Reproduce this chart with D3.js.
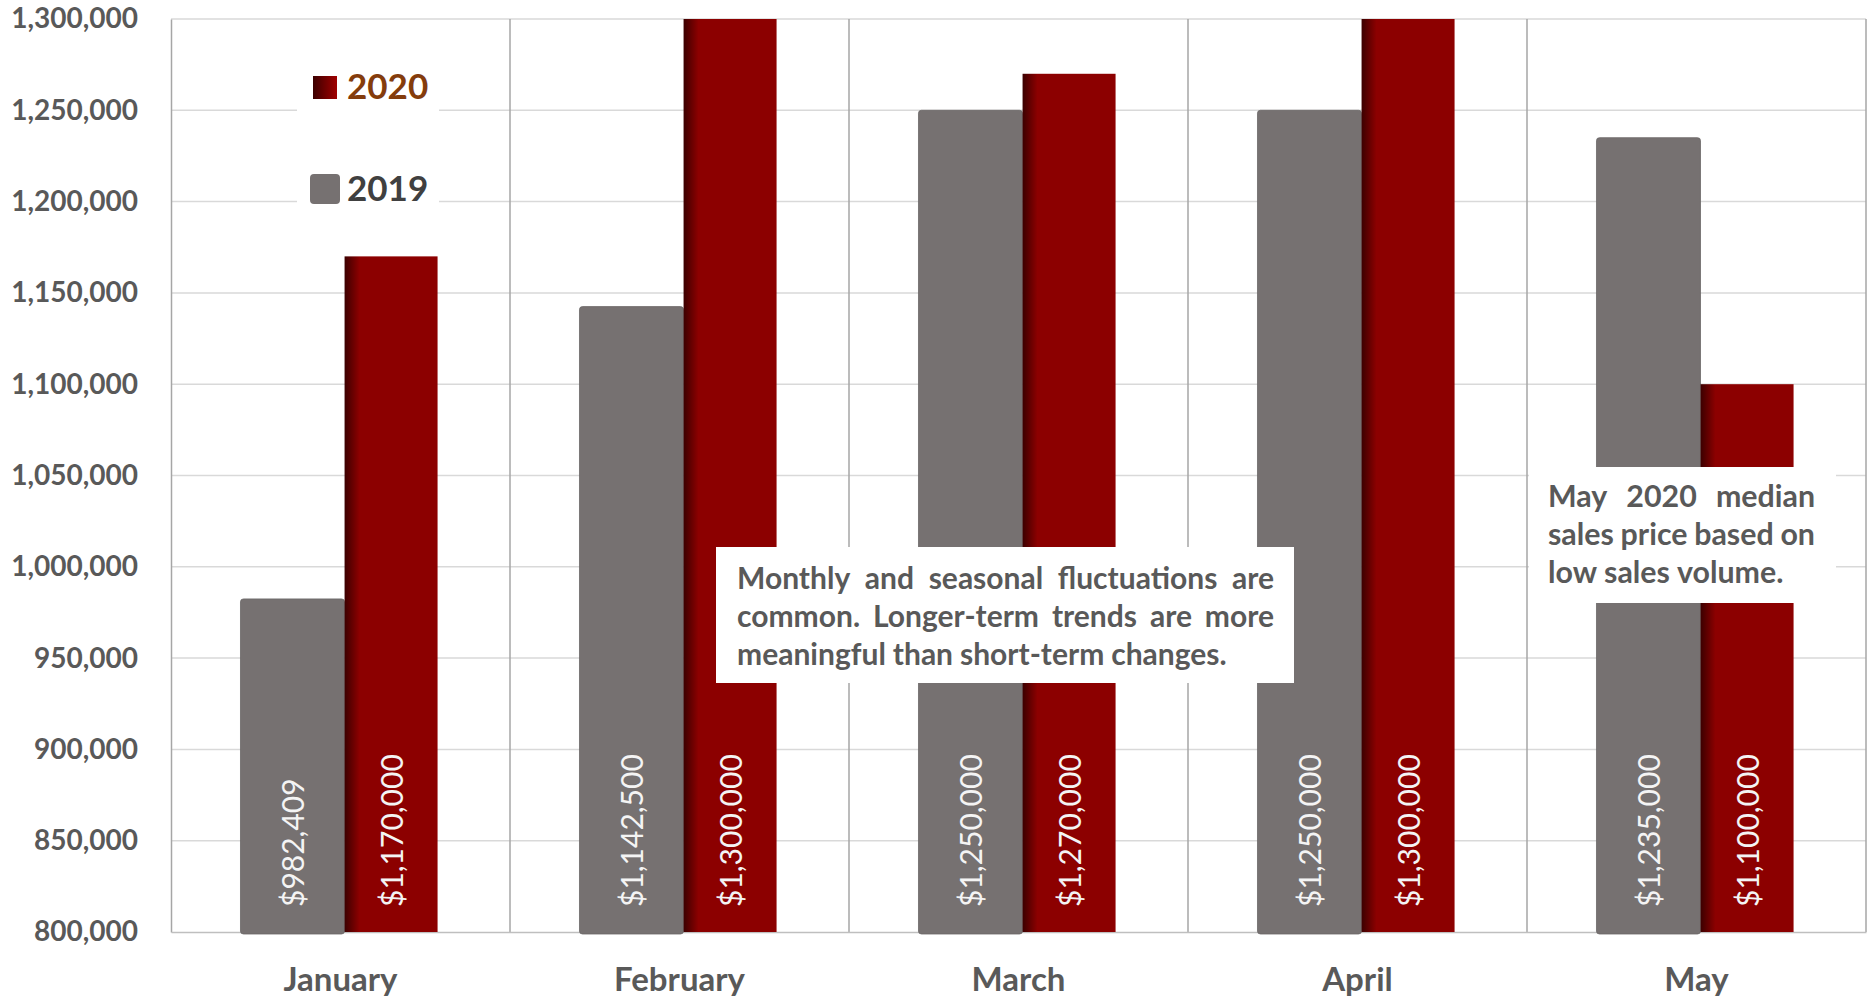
<!DOCTYPE html>
<html lang="en">
  <head>
    <meta charset="utf-8" />
    <title>Median sales price 2019 vs 2020</title>
    <style>
      body { margin: 0; background: #fff; }
      #vis text { font-family: Lato, "Noto Sans", sans-serif; }
    </style>
  </head>
  <body>
    <div id="vis"></div>
    <script src="https://d3js.org/d3.v7.min.js"></script>
    <script>
      const months = ["January", "February", "March", "April", "May"];
      const sales2019 = [982409, 1142500, 1250000, 1250000, 1235000];
      const sales2020 = [1170000, 1300000, 1270000, 1300000, 1100000];
      const yTicks = [800000, 850000, 900000, 950000, 1000000, 1050000, 1100000, 1150000, 1200000, 1250000, 1300000];
      const note1 = ["Monthly and seasonal fluctuations are", "common. Longer-term trends are more", "meaningful than short-term changes."];
      const note2 = ["May 2020 median", "sales price based on", "low sales volume."];

      const W = 1873, H = 1000;
      const svg = d3.select("#vis").append("svg").attr("width", W).attr("height", H);

      const x = d3.scaleBand().domain(months).range([171, 1866]);
      const y = d3.scaleLinear().domain([800000, 1300000]).range([932, 19]);
      const bw = x.bandwidth();

      const defs = svg.append("defs");
      const red = defs.append("linearGradient").attr("id", "red");
      red.append("stop").attr("offset", "0%").attr("stop-color", "#3c0000");
      red.append("stop").attr("offset", "16%").attr("stop-color", "#8c0000");
      red.append("stop").attr("offset", "100%").attr("stop-color", "#8c0000");
      const redKey = defs.append("linearGradient").attr("id", "redKey");
      redKey.append("stop").attr("offset", "0%").attr("stop-color", "#3c0000");
      redKey.append("stop").attr("offset", "100%").attr("stop-color", "#a00000");

      // gridlines
      svg.append("g").selectAll("line").data(yTicks.slice(1)).join("line")
        .attr("x1", 171).attr("x2", 1866)
        .attr("y1", d => y(d)).attr("y2", d => y(d))
        .attr("stroke", "#d9d9d9").attr("stroke-width", 1.5);

      // category separators
      svg.append("g").selectAll("line").data(months.slice(1).map(m => x(m)).concat([1866])).join("line")
        .attr("x1", d => d).attr("x2", d => d)
        .attr("y1", y(1300000)).attr("y2", y(800000))
        .attr("stroke", "#a6a6a6").attr("stroke-width", 1.5);

      // legend background
      svg.append("rect").attr("x", 297).attr("y", 35).attr("width", 142).attr("height", 195).attr("fill", "#fff");

      // axes
      const yAxis = svg.append("g").attr("transform", "translate(171,0)")
        .call(d3.axisLeft(y).tickValues(yTicks).tickFormat(d3.format(",")).tickSize(0).tickPadding(33));
      yAxis.select(".domain").attr("stroke", "#a6a6a6").attr("stroke-width", 1.5);
      yAxis.selectAll("text").attr("fill", "#595959").attr("font-size", 28).attr("font-weight", 700);

      const xAxis = svg.append("g").attr("transform", "translate(0,932)")
        .call(d3.axisBottom(x).tickSize(0));
      xAxis.select(".domain").attr("stroke", "#bfbfbf").attr("stroke-width", 1.5);
      xAxis.selectAll("text").attr("y", 59).attr("dy", 0)
        .attr("fill", "#595959").attr("font-size", 33).attr("font-weight", 700);

      // bars
      const fmt = d3.format(",");
      const g19 = svg.append("g");
      g19.selectAll("rect").data(sales2019).join("rect")
        .attr("x", (d, i) => x(months[i]) + bw * 0.205)
        .attr("y", d => y(d))
        .attr("width", 104)
        .attr("height", d => y(800000) - y(d) + 2)
        .attr("rx", 3)
        .attr("fill", "#767171").attr("stroke", "#6a6666").attr("stroke-width", 0.8);

      const g20 = svg.append("g");
      g20.selectAll("rect").data(sales2020).join("rect")
        .attr("x", (d, i) => x(months[i]) + bw * 0.512)
        .attr("y", d => y(d))
        .attr("width", 93)
        .attr("height", d => y(800000) - y(d))
        .attr("fill", "url(#red)");

      // value labels
      function labels(data, off, w) {
        svg.append("g").selectAll("text").data(data).join("text")
          .attr("transform", (d, i) => `translate(${x(months[i]) + bw * off + w / 2},907) rotate(-90)`)
          .attr("dominant-baseline", "central")
          .attr("fill", "#f4f4f4").attr("font-size", 30)
          .text(d => "$" + fmt(d));
      }
      labels(sales2019, 0.205, 104);
      labels(sales2020, 0.512, 93);

      // legend
      svg.append("rect").attr("x", 313).attr("y", 76).attr("width", 24).attr("height", 23).attr("fill", "url(#redKey)");
      svg.append("text").attr("x", 347).attr("y", 99).attr("font-size", 35).attr("font-weight", 700)
        .attr("fill", "#843c0c").text("2020");
      svg.append("rect").attr("x", 310).attr("y", 174).attr("width", 30).attr("height", 30).attr("rx", 4)
        .attr("fill", "#767171");
      svg.append("text").attr("x", 347).attr("y", 201).attr("font-size", 35).attr("font-weight", 700)
        .attr("fill", "#404040").text("2019");

      // justified note boxes
      function note(lines, box, tx, tw, base0, step, lastW) {
        svg.append("rect").attr("x", box[0]).attr("y", box[1]).attr("width", box[2]).attr("height", box[3]).attr("fill", "#fff");
        const t = svg.append("text").attr("font-weight", 700).attr("fill", "#595959").attr("font-size", 30);
        const probe = t.append("tspan").text(lines[lines.length - 1]);
        const size = 30 * lastW / probe.node().getComputedTextLength();
        probe.remove();
        t.attr("font-size", size);
        lines.forEach((line, li) => {
          const words = line.split(" ");
          const spans = words.map(w => t.append("tspan").attr("y", base0 + li * step).text(w));
          const widths = spans.map(s => s.node().getComputedTextLength());
          const last = li === lines.length - 1;
          const gap = last ? size * 0.23 : (tw - d3.sum(widths)) / (words.length - 1);
          let cx = tx;
          spans.forEach((s, k) => { s.attr("x", cx); cx += widths[k] + gap; });
        });
      }
      note(note1, [716, 547, 578, 136], 737, 537, 589, 38, 491);
      note(note2, [1529, 467, 307, 136], 1548, 267, 507, 38, 235);
    </script>
  </body>
</html>
